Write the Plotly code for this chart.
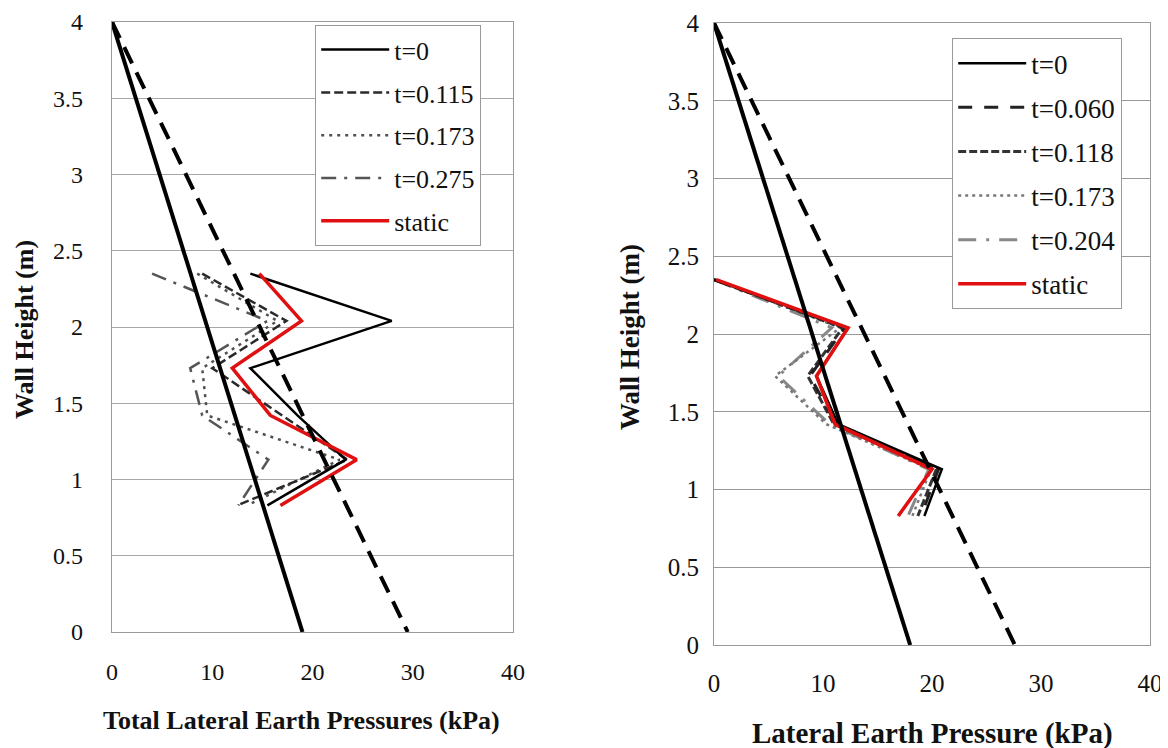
import plotly.graph_objects as go

# ---------------- data ----------------
heights = [2.35, 2.04, 1.73, 1.42, 1.13, 0.83]

# left chart: Total Lateral Earth Pressures (kPa)
left_t0 = [13.8, 27.9, 13.8, 18.5, 23.3, 15.5]
left_t0115 = [9.0, 17.4, 10.0, 17.0, 23.5, 12.5]
left_t0173 = [8.5, 16.5, 9.0, 9.5, 22.7, 13.5]
left_t0275 = [4.0, 15.5, 7.8, 9.0, 15.6, 12.6]
left_static = [14.7, 18.9, 12.0, 15.8, 24.4, 16.8]

# right chart: Lateral Earth Pressure (kPa)
right_t0 = [0.0, 12.3, 9.4, 11.4, 20.9, 19.3]
right_t0060 = [0.0, 12.0, 8.8, 11.2, 20.6, 19.0]
right_t0118 = [0.0, 11.8, 8.6, 11.0, 20.4, 18.7]
right_t0173 = [0.0, 11.6, 5.6, 10.3, 19.9, 18.2]
right_t0204 = [0.0, 10.8, 5.9, 10.6, 19.7, 17.8]
right_static = [0.2, 12.3, 9.4, 11.1, 20.0, 16.9]

# reference (theoretical) lines
ref_heights = [4.0, 0.0]
left_ref_solid = [0.0, 19.0]
left_ref_dashed = [0.0, 29.5]
right_ref_solid = [0.0, 18.0]
right_ref_dashed = [0.0, 27.6]

x_ticks = [0, 10, 20, 30, 40]
y_ticks = [0, 0.5, 1, 1.5, 2, 2.5, 3, 3.5, 4]
y_tick_text = ["0", "0.5", "1", "1.5", "2", "2.5", "3", "3.5", "4"]

# page body has an 8px margin, so the figure is 8px smaller and positions are shifted
OFF = 8
W, H = 1168 - OFF, 748 - OFF
SERIF = "Liberation Serif"
RED = "#e01010"

fig = go.Figure()


def add(x, y, name, color, width, dash, axes, legend, rank, show=True):
    xa, ya = axes
    fig.add_trace(go.Scatter(
        x=x, y=y, mode="lines", name=name,
        line=dict(color=color, width=width, dash=dash),
        xaxis=xa, yaxis=ya, legend=legend, legendgroup=legend + name,
        legendrank=rank, showlegend=show, hoverinfo="skip"))


L = ("x", "y")
R = ("x2", "y2")

# left series
add(left_t0275, heights, "t=0.275", "#555555", 2.5, "15px,8px,3px,8px", L, "legend", 4)
add(left_t0173, heights, "t=0.173", "#505050", 2.5, "3px,5px", L, "legend", 3)
add(left_t0115, heights, "t=0.115", "#2a2a2a", 2.5, "9px,4px", L, "legend", 2)
add(left_t0, heights, "t=0", "#000000", 2.5, "solid", L, "legend", 1)
add(left_static, heights, "static", RED, 3.5, "solid", L, "legend", 5)
add(left_ref_solid, ref_heights, "K solid", "#000000", 4, "solid", L, "legend", 10, False)
add(left_ref_dashed, ref_heights, "K dashed", "#000000", 4, "18px,10px", L, "legend", 11, False)

# right series
add(right_t0204, heights, "t=0.204", "#888888", 3, "18px,10px,3px,10px", R, "legend2", 5)
add(right_t0173, heights, "t=0.173", "#777777", 2.5, "3px,4px", R, "legend2", 4)
add(right_t0118, heights, "t=0.118", "#333333", 3, "8px,3px", R, "legend2", 3)
add(right_t0060, heights, "t=0.060", "#222222", 3, "14px,12px", R, "legend2", 2)
add(right_t0, heights, "t=0", "#000000", 2.5, "solid", R, "legend2", 1)
add(right_static, heights, "static", RED, 3.5, "solid", R, "legend2", 6)
add(right_ref_solid, ref_heights, "K solid", "#000000", 4, "solid", R, "legend2", 10, False)
add(right_ref_dashed, ref_heights, "K dashed", "#000000", 4, "18px,10px", R, "legend2", 11, False)


def px_x(p):
    return (p - OFF) / W


def px_y(p):
    return 1 - (p - OFF) / H


def axis_common(size):
    return dict(showline=True, mirror=True, linecolor="#9a9a9a", linewidth=1.2,
                ticks="", zeroline=False, automargin=False, ticklabeloverflow="allow",
                tickfont=dict(family=SERIF, size=size, color="#111111"))


fig.update_layout(
    template="none",
    font=dict(family=SERIF, size=24, color="#111111"),
    width=W, height=H, margin=dict(l=0, r=0, t=0, b=0, pad=0), autosize=False,
    paper_bgcolor="white", plot_bgcolor="white",
    xaxis=dict(domain=[px_x(112), px_x(513)], range=[0, 40], tickvals=x_ticks,
               showgrid=False, ticklabelstandoff=18, anchor="y", **axis_common(24)),
    yaxis=dict(domain=[px_y(632), px_y(22)], range=[0, 4], tickvals=y_ticks,
               ticktext=y_tick_text, showgrid=True, gridcolor="#a8a8a8", gridwidth=1.2,
               ticklabelstandoff=23, anchor="x", **axis_common(24)),
    xaxis2=dict(domain=[px_x(714), px_x(1150)], range=[0, 40], tickvals=x_ticks,
                showgrid=False, ticklabelstandoff=16, anchor="y2", **axis_common(25)),
    yaxis2=dict(domain=[px_y(645), px_y(23)], range=[0, 4], tickvals=y_ticks,
                ticktext=y_tick_text, showgrid=True, gridcolor="#999999", gridwidth=1.2,
                ticklabelstandoff=9, anchor="x2", **axis_common(25)),
    legend=dict(x=px_x(315), y=px_y(25), xanchor="left", yanchor="top",
                bgcolor="white", bordercolor="#9a9a9a", borderwidth=1.2,
                font=dict(family=SERIF, size=26, color="#111111"),
                itemwidth=68, traceorder="grouped", tracegroupgap=6,
                itemclick=False, itemdoubleclick=False),
    legend2=dict(x=px_x(952), y=px_y(38), xanchor="left", yanchor="top",
                 bgcolor="white", bordercolor="#9a9a9a", borderwidth=1.2,
                 font=dict(family=SERIF, size=27, color="#111111"),
                 itemwidth=68, traceorder="grouped", tracegroupgap=6,
                 itemclick=False, itemdoubleclick=False),
    annotations=[
        dict(text="<b>Total Lateral Earth Pressures (kPa)</b>", xref="paper", yref="paper",
             x=px_x(301), y=px_y(720), xanchor="center", yanchor="middle", showarrow=False,
             font=dict(family=SERIF, size=26, color="#111111")),
        dict(text="<b>Wall Height (m)</b>", xref="paper", yref="paper",
             x=px_x(24), y=px_y(330), xanchor="center", yanchor="middle",
             showarrow=False, textangle=-90,
             font=dict(family=SERIF, size=26, color="#111111")),
        dict(text="<b>Lateral Earth Pressure (kPa)</b>", xref="paper", yref="paper",
             x=px_x(932), y=px_y(733), xanchor="center", yanchor="middle", showarrow=False,
             font=dict(family=SERIF, size=29, color="#111111")),
        dict(text="<b>Wall Height (m)</b>", xref="paper", yref="paper",
             x=px_x(630), y=px_y(337), xanchor="center", yanchor="middle",
             showarrow=False, textangle=-90,
             font=dict(family=SERIF, size=27, color="#111111")),
    ],
)

fig.write_html("out.html")
